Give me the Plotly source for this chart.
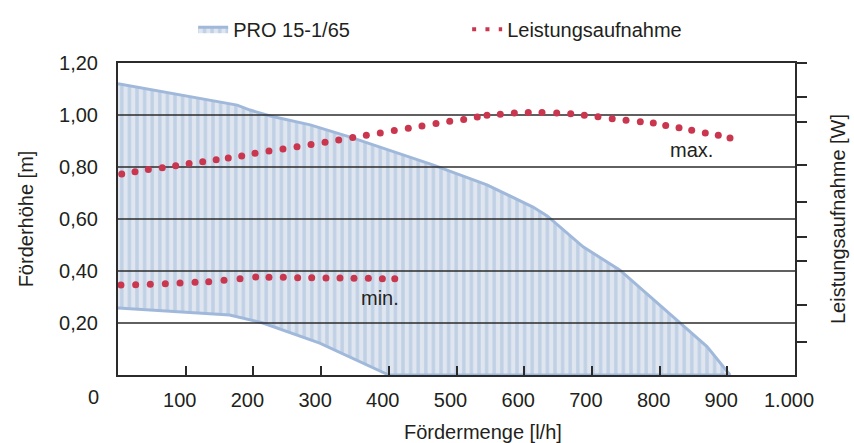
import plotly.graph_objects as go

# ---- data ----
# Förderhöhe band: upper (max) curve and lower (min) curve, x in l/h, y in m
top_x = [0, 176, 195, 225, 284, 343, 465, 545, 613, 634, 687, 741, 786, 830, 870, 904]
top_y = [1.12, 1.038, 1.019, 0.996, 0.962, 0.915, 0.808, 0.731, 0.646, 0.612, 0.493, 0.404, 0.301, 0.200, 0.109, 0.0]
bot_x = [0, 165, 214, 298, 400]
bot_y = [0.258, 0.231, 0.200, 0.123, 0.0]

# Leistungsaufnahme curves (dotted), x in l/h
max_x = [5.5, 25.1, 44.8, 65.4, 85.2, 105, 125.1, 145, 162.9, 182.7, 202.4, 223, 243.7, 264.4,
         285.1, 305.8, 326, 346.7, 366.8, 387.4, 408.1, 428.8, 449, 469.7, 490, 510.6, 530.7,
         545, 564.7, 585.4, 606, 626.3, 648, 668.7, 688.8, 709, 730, 750.4, 771.5, 790.7, 809,
         828.7, 847.4, 867.5, 886.7, 904]
max_y = [0.773, 0.782, 0.790, 0.797, 0.805, 0.813, 0.820, 0.828, 0.835, 0.842, 0.853, 0.862,
         0.869, 0.878, 0.887, 0.895, 0.904, 0.913, 0.922, 0.931, 0.940, 0.949, 0.958, 0.967,
         0.976, 0.983, 0.992, 0.999, 1.003, 1.008, 1.010, 1.010, 1.008, 1.005, 0.999, 0.993,
         0.986, 0.980, 0.974, 0.969, 0.960, 0.951, 0.941, 0.931, 0.922, 0.912]
min_x = [4.4, 26.1, 47.7, 69.9, 91.6, 113.8, 134, 156.6, 180.2, 203.4, 223, 244.2, 265.4,
         286.1, 307.2, 327.9, 348.6, 369.8, 390.5, 408.8]
min_y = [0.346, 0.347, 0.349, 0.351, 0.354, 0.357, 0.359, 0.364, 0.370, 0.377, 0.376, 0.376,
         0.374, 0.374, 0.373, 0.373, 0.372, 0.372, 0.370, 0.370]

x_ticks = [0, 100, 200, 300, 400, 500, 600, 700, 800, 900, 1000]
x_labels = ["", "100", "200", "300", "400", "500", "600", "700", "800", "900", "1.000"]
y_ticks = [0.2, 0.4, 0.6, 0.8, 1.0, 1.2]
y_labels = ["0,20", "0,40", "0,60", "0,80", "1,00", "1,20"]
power_ticks = [0.128, 0.269, 0.440, 0.530, 0.667, 0.808, 0.974, 1.070, 1.2]

FONT = "Liberation Sans, Arial, sans-serif"
TXT = "#231f20"
AX = "#2b2b2b"
RED = "#c9364e"
BLUE = "#a0b9db"
BG = "#e0e6ef"

fig = go.Figure()

# band polygon: top curve, along the axis back to the lower curve, lower curve back
poly_x = top_x + bot_x[::-1]
poly_y = top_y + bot_y[::-1]
fig.add_trace(go.Scatter(
    x=poly_x, y=poly_y, mode="lines", fill="toself", name="PRO 15-1/65",
    line=dict(color=BLUE, width=3),
    fillcolor=BG,
    fillpattern=dict(shape="|", fgcolor=BLUE, bgcolor=BG, size=7.6, solidity=0.45),
    hoverinfo="skip",
))

# horizontal grid lines drawn above the band
gx, gy = [], []
for v in y_ticks[:-1]:
    gx += [x_ticks[0], x_ticks[-1], None]
    gy += [v, v, None]
fig.add_trace(go.Scatter(x=gx, y=gy, mode="lines", line=dict(color=AX, width=1.6),
                         showlegend=False, hoverinfo="skip"))

fig.add_trace(go.Scatter(x=max_x, y=max_y, mode="markers", yaxis="y2",
                         marker=dict(color=RED, size=7), showlegend=False))
fig.add_trace(go.Scatter(x=min_x, y=min_y, mode="markers", yaxis="y2",
                         marker=dict(color=RED, size=7), showlegend=False))
# legend entry for the dotted power curves
fig.add_trace(go.Scatter(x=[None], y=[None], mode="lines", name="Leistungsaufnahme",
                         line=dict(color=RED, width=4, dash="4px,9.3px")))

fig.update_layout(
    width=854, height=443,
    margin=dict(l=118, r=59, t=63, b=68, autoexpand=False),
    paper_bgcolor="white", plot_bgcolor="white",
    font=dict(family=FONT, size=20, color=TXT),
    showlegend=True,
    legend=dict(orientation="h", x=0.111, xanchor="left", y=1.108, yanchor="middle",
                entrywidth=229, entrywidthmode="pixels",
                font=dict(size=20, color=TXT), bgcolor="rgba(0,0,0,0)"),
    xaxis=dict(range=[0, 1000], tickvals=x_ticks, ticktext=x_labels,
               ticks="inside", ticklen=9, tickwidth=1.5, tickcolor=AX,
               showline=True, linewidth=2, linecolor=AX, mirror=True,
               showgrid=False, zeroline=False, ticklabelshift=-6, ticklabelstandoff=6,
               tickfont=dict(size=20, color=TXT)),
    yaxis=dict(range=[0, 1.2], tickvals=y_ticks, ticktext=y_labels, ticks="",
               showline=True, linewidth=2, linecolor=AX, showgrid=False, zeroline=False,
               ticklabelstandoff=14, tickfont=dict(size=20, color=TXT),
               title=dict(text="Förderhöhe [m]", standoff=20, font=dict(size=20, color=TXT))),
    yaxis2=dict(range=[0, 1.2], overlaying="y", side="right", tickvals=power_ticks,
                showticklabels=False, ticks="outside", ticklen=10, tickwidth=1.5,
                tickcolor=AX, showline=True, linewidth=2, linecolor=AX,
                showgrid=False, zeroline=False,
                title=dict(text="Leistungsaufnahme [W]", standoff=25,
                           font=dict(size=20, color=TXT))),
    annotations=[
        dict(text="0", x=0, y=0, xref="x", yref="y", xshift=-25, yshift=-22,
             xanchor="center", yanchor="middle",
             showarrow=False, font=dict(size=20, color=TXT)),
        dict(text="Fördermenge [l/h]", x=0.539, y=-0.183, xref="paper", yref="paper",
             xanchor="center", yanchor="middle",
             showarrow=False, font=dict(size=20, color=TXT)),
        dict(text="max.", x=847, y=0.865, xref="x", yref="y", showarrow=False,
             xanchor="center", yanchor="middle", font=dict(size=20, color=TXT)),
        dict(text="min.", x=387, y=0.296, xref="x", yref="y", showarrow=False,
             xanchor="center", yanchor="middle", font=dict(size=20, color=TXT)),
    ],
)

fig.write_html("out.html", config={"displayModeBar": False},
               post_script="document.body.style.margin='0';document.body.style.padding='0';")
